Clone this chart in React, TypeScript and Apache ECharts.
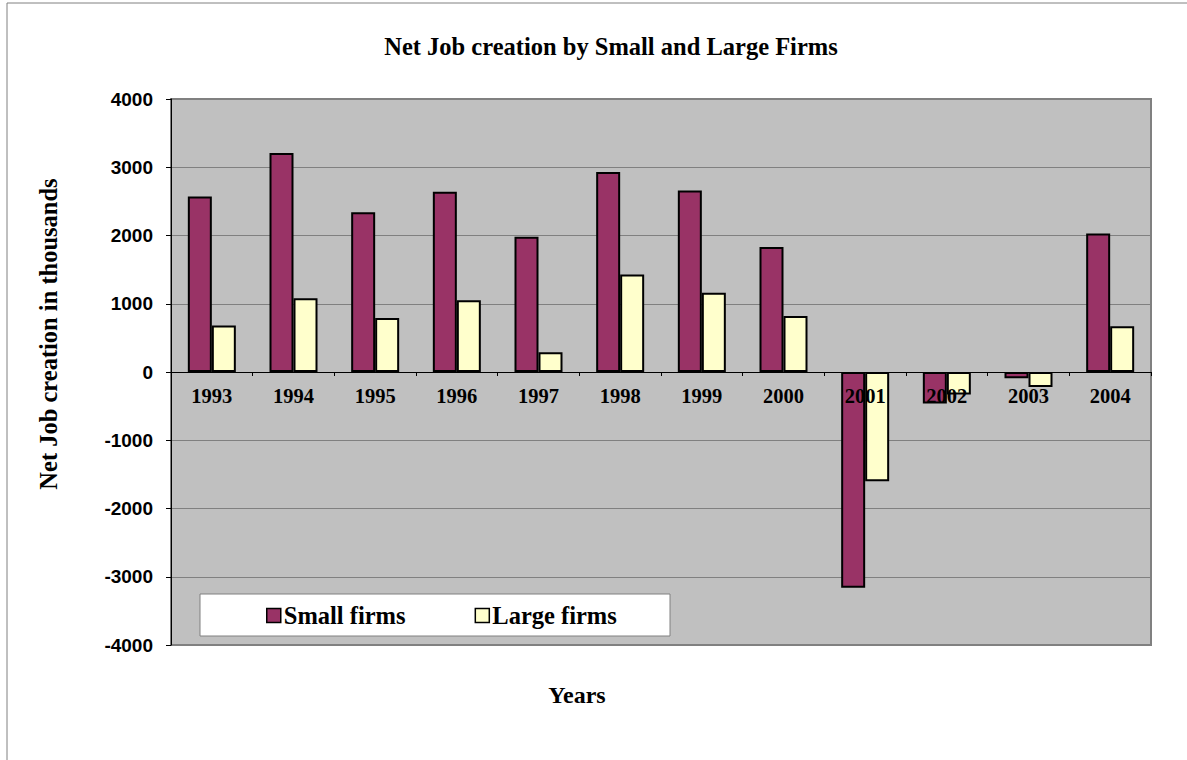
import React, { useEffect, useRef } from "react";
import * as echarts from "echarts";

const years = ["1993", "1994", "1995", "1996", "1997", "1998", "1999", "2000", "2001", "2002", "2003", "2004"];
const smallFirms = [2570, 3210, 2340, 2640, 1980, 2930, 2660, 1830, -3160, -460, -90, 2030];
const largeFirms = [680, 1080, 790, 1050, 290, 1430, 1160, 820, -1600, -330, -220, 670];
const yTicks = { min: -4000, max: 4000, interval: 1000 };

const serif = "'Liberation Serif', 'Times New Roman', serif";
const sans = "'Liberation Sans', Arial, sans-serif";

export default function App() {
  const ref = useRef<HTMLDivElement>(null);
  useEffect(() => {
    document.body.style.margin = "0";
    const chart = echarts.init(ref.current!, null, { renderer: "svg" });
    chart.setOption({
      animation: false,
      backgroundColor: "#ffffff",
      title: {
        text: "Net Job creation by Small and Large Firms",
        left: 606,
        textAlign: "center",
        top: 29,
        textStyle: { fontFamily: serif, fontWeight: "bold", fontSize: 24.5, color: "#000" },
      },
      grid: {
        left: 171,
        right: 36,
        top: 99,
        bottom: 115,
        show: true,
        backgroundColor: "#C0C0C0",
        borderColor: "#808080",
        borderWidth: 2,
      },
      legend: {
        left: 261,
        top: 598,
        itemWidth: 14,
        itemHeight: 14,
        itemGap: 69,
        icon: "rect",
        z: 10,
        textStyle: { fontFamily: serif, fontWeight: "bold", fontSize: 24.5, color: "#000", padding: [0, 0, 0, -2] },
        itemStyle: { borderColor: "#000", borderWidth: 1.5 },
        data: ["Small firms", "Large firms"],
      },
      graphic: [
        {
          type: "rect",
          shape: { x: 7, y: 3, width: 1200, height: 800 },
          style: { fill: "none", stroke: "#808080", lineWidth: 1 },
          z: 0,
        },
        {
          type: "rect",
          shape: { x: 200, y: 594, width: 470, height: 42 },
          style: { fill: "#ffffff", stroke: "#808080", lineWidth: 1 },
          z: 5,
        },
        {
          type: "text",
          x: 48,
          y: 334,
          rotation: Math.PI / 2,
          style: {
            text: "Net Job creation in thousands",
            font: `bold 24.5px ${serif}`,
            fill: "#000",
            textAlign: "center",
            textVerticalAlign: "middle",
          },
        },
        {
          type: "text",
          x: 577,
          y: 695,
          style: {
            text: "Years",
            font: `bold 24px ${serif}`,
            fill: "#000",
            textAlign: "center",
            textVerticalAlign: "middle",
          },
        },
      ],
      xAxis: {
        type: "category",
        data: years,
        z: 10,
        position: "bottom",
        offset: -273,
        axisLine: { onZero: false, lineStyle: { color: "#000", width: 1 } },
        axisTick: { show: true, length: 4, lineStyle: { color: "#000" } },
        axisLabel: { margin: 13, fontFamily: serif, fontWeight: "bold", fontSize: 20.5, color: "#000" },
        splitLine: { show: false },
      },
      yAxis: {
        type: "value",
        min: yTicks.min,
        max: yTicks.max,
        interval: yTicks.interval,
        axisLine: { show: true, lineStyle: { color: "#000", width: 1 } },
        axisTick: { show: true, length: 5, lineStyle: { color: "#000" } },
        axisLabel: {
          margin: 18,
          fontFamily: sans,
          fontWeight: "bold",
          fontSize: 19,
          color: "#000",
          formatter: (v: number) => String(v),
        },
        splitLine: { show: true, lineStyle: { color: "#808080", width: 1 } },
      },
      series: [
        {
          name: "Small firms",
          type: "bar",
          data: smallFirms,
          barWidth: 24,
          barGap: "0%",
          itemStyle: { color: "#993366", borderColor: "#000", borderWidth: 2 },
        },
        {
          name: "Large firms",
          type: "bar",
          data: largeFirms,
          barWidth: 24,
          barGap: "0%",
          itemStyle: { color: "#FFFFCC", borderColor: "#000", borderWidth: 2 },
        },
      ],
    });
    return () => chart.dispose();
  }, []);
  return <div ref={ref} style={{ width: 1187, height: 760 }} />;
}
